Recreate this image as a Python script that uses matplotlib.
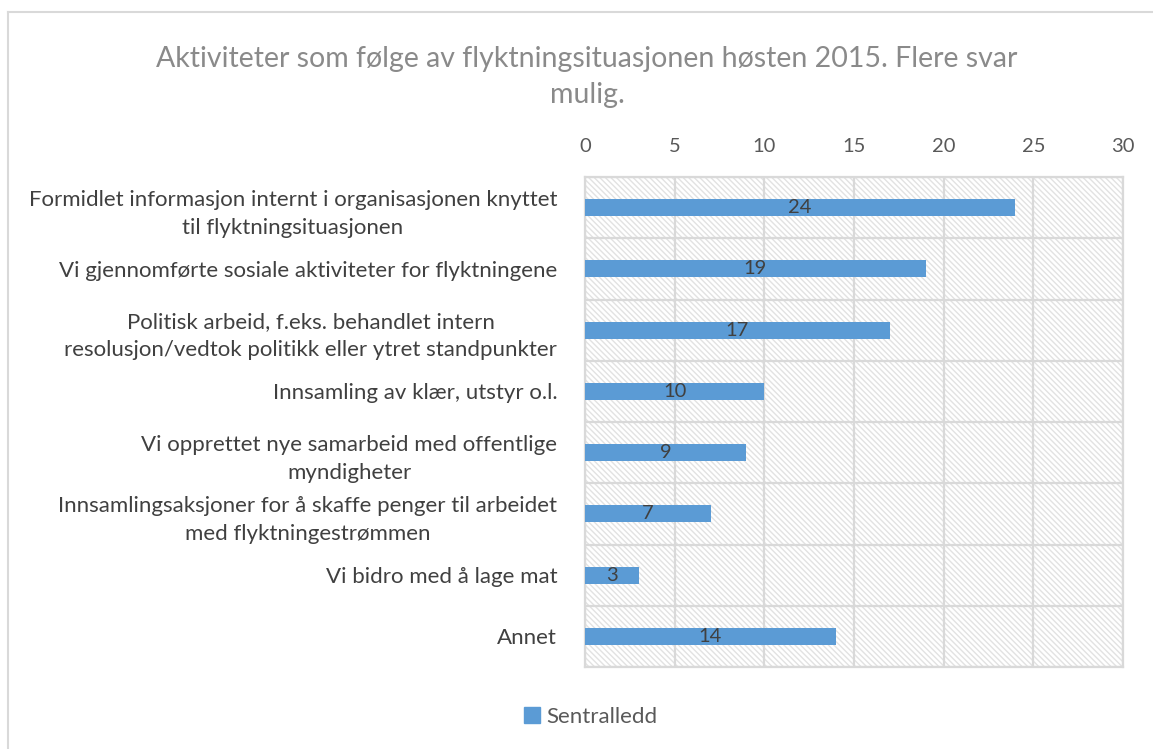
import numpy as np
import matplotlib.pyplot as plt
from matplotlib.patches import Rectangle
from matplotlib.lines import Line2D

# data
categories = [
    "Formidlet informasjon internt i organisasjonen knyttet\ntil flyktningsituasjonen",
    "Vi gjennomførte sosiale aktiviteter for flyktningene",
    "Politisk arbeid, f.eks. behandlet intern\nresolusjon/vedtok politikk eller ytret standpunkter",
    "Innsamling av klær, utstyr o.l.",
    "Vi opprettet nye samarbeid med offentlige\nmyndigheter",
    "Innsamlingsaksjoner for å skaffe penger til arbeidet\nmed flyktningestrømmen",
    "Vi bidro med å lage mat",
    "Annet",
]
values = [24, 19, 17, 10, 9, 7, 3, 14]
series_name = "Sentralledd"
x_ticks = [0, 5, 10, 15, 20, 25, 30]
title = "Aktiviteter som følge av flyktningsituasjonen høsten 2015. Flere svar\nmulig."

plt.rcParams['font.family'] = ['Lato', 'DejaVu Sans']

W, H = 1153, 749
fig = plt.figure(figsize=(W / 100, H / 100), dpi=100)
ax = fig.add_axes([585 / W, 1 - 667 / H, (1123 - 585) / W, (667 - 177) / H])

blue = '#5b9bd5'
grid = '#d9d9d9'
n = len(categories)
y = np.arange(n)

# hatched plot background
ax.add_patch(Rectangle((0, 0), 1, 1, transform=ax.transAxes, facecolor='white',
                       edgecolor='#e2e2e2', hatch='\\\\\\\\\\\\', lw=0, zorder=0))

ax.barh(y, values, height=0.28, color=blue, zorder=3)
for yi, v in zip(y, values):
    ax.text(v / 2, yi, str(v), ha='center', va='center', fontsize=14.5,
            color='#404040', zorder=4)

ax.set_xlim(0, 30)
ax.set_ylim(n - 0.5, -0.5)
ax.set_xticks(x_ticks)
ax.xaxis.tick_top()
ax.tick_params(axis='x', length=0, pad=16, labelsize=14.5, labelcolor='#595959')
ax.set_yticks(y)
ax.set_yticklabels(categories, fontsize=16, color='#404040', ha='right',
                   multialignment='center', linespacing=1.5)
ax.tick_params(axis='y', length=0, pad=20)

for xv in x_ticks:
    ax.axvline(xv, color=grid, lw=1.6, zorder=1)
for b in np.arange(-0.5, n, 1.0):
    ax.axhline(b, color=grid, lw=1.6, zorder=1)
for s in ax.spines.values():
    s.set_color(grid)
    s.set_linewidth(1.6)

fig.text(587 / W, 1 - 77 / H, title, ha='center', va='center', fontsize=20.5,
         color='#8a8a8a', linespacing=1.45)

handle = Rectangle((0, 0), 1, 1, color=blue)
fig.legend([handle], [series_name], loc='center', bbox_to_anchor=(591 / W, 1 - 717 / H),
           frameon=False, fontsize=16, labelcolor='#595959', handlelength=0.7,
           handleheight=0.7, handletextpad=0.3)

# outer chart border (cropped at right/bottom)
fig.add_artist(Line2D([8 / W, 1], [1 - 12 / H, 1 - 12 / H], color=grid, lw=1.5,
                      transform=fig.transFigure))
fig.add_artist(Line2D([8 / W, 8 / W], [0, 1 - 12 / H], color=grid, lw=1.5,
                      transform=fig.transFigure))

fig.savefig('out.png', dpi=100)
